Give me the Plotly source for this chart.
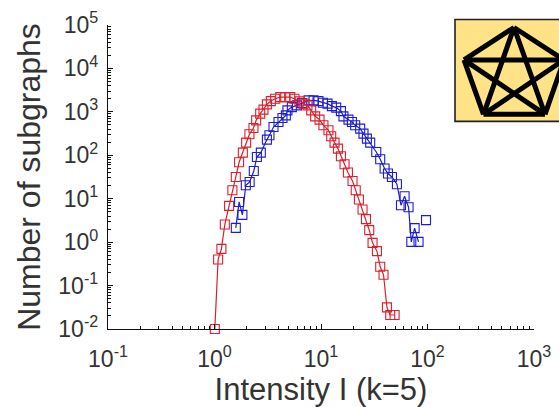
import plotly.graph_objects as go

# Values as decades (log10)
red_log_intensity = [0.003,0.034,0.065,0.097,0.137,0.168,0.200,0.231,0.266,0.297,0.328,0.366,0.391,0.429,0.460,0.492,0.529,0.570,0.617,0.664,0.711,0.751,0.798,0.836,0.873,0.908,0.945,0.986,1.023,1.070,1.096,1.127,1.159,1.187,1.221,1.253,1.296,1.326,1.356,1.390,1.422,1.453,1.484,1.525,1.556,1.587,1.619,1.650,1.691]
red_log_count = [-2.0,-0.398,-0.154,0.407,0.834,1.195,1.501,1.839,2.062,2.292,2.483,2.628,2.805,2.959,3.051,3.172,3.248,3.303,3.340,3.340,3.340,3.303,3.241,3.189,3.149,3.034,2.897,2.821,2.690,2.575,2.437,2.292,2.154,1.977,1.793,1.602,1.409,1.195,0.982,0.752,0.529,0.276,-0.016,-0.207,-0.568,-0.752,-1.501,-1.678,-1.678]
blue_log_intensity = [0.200,0.231,0.262,0.294,0.330,0.369,0.398,0.435,0.492,0.516,0.554,0.601,0.638,0.670,0.685,0.726,0.774,0.820,0.883,0.930,0.976,1.018,1.061,1.102,1.143,1.187,1.211,1.258,1.290,1.321,1.368,1.399,1.431,1.462,1.519,1.556,1.597,1.629,1.666,1.713,1.751,1.785,1.822,1.848,1.879,1.916,None,1.986]
blue_log_count = [0.329,0.926,0.628,1.310,1.386,1.639,1.961,2.062,2.361,2.460,2.651,2.766,2.857,2.920,3.034,3.110,3.149,3.202,3.264,3.264,3.248,3.211,3.189,3.133,3.097,3.018,2.897,2.821,2.766,2.690,2.614,2.499,2.384,2.292,2.076,1.908,1.694,1.579,1.501,1.333,0.851,1.057,0.805,0.007,0.322,0.007,None,0.506]
x_ticks = [0.1, 1, 10, 100, 1000]
x_tick_labels = ["10<sup>-1</sup>", "10<sup>0</sup>", "10<sup>1</sup>", "10<sup>2</sup>", "10<sup>3</sup>"]
y_ticks = [0.01, 0.1, 1, 10, 100, 1000, 10000, 100000]
y_tick_labels = ["10<sup>-2</sup>", "10<sup>-1</sup>", "10<sup>0</sup>", "10<sup>1</sup>", "10<sup>2</sup>", "10<sup>3</sup>", "10<sup>4</sup>", "10<sup>5</sup>"]

W, H = 559, 407
L, R, T, B = 108, 25, 24.5, 78
FONT = "Liberation Sans, Arial, sans-serif"
INK = "#333333"


def dec(v):
    return [None if a is None else 10 ** a for a in v]


def px(x):
    return (x - L) / (W - L - R)


def py(y):
    return 1 - (y - T) / (H - T - B)


fig = go.Figure()
for xs, ys, col in [
    (blue_log_intensity, blue_log_count, "#1c1cd2"),
    (red_log_intensity, red_log_count, "#dc1f2b"),
]:
    fig.add_trace(go.Scatter(
        x=dec(xs), y=dec(ys), mode="lines+markers", cliponaxis=False,
        line=dict(color=col, width=1.2),
        marker=dict(symbol="square-open", size=9, color=col, line=dict(width=1.1, color=col)),
        showlegend=False,
    ))

axis_common = dict(
    type="log", showgrid=False, zeroline=False, showline=True, automargin=False,
    linecolor="#111111", linewidth=1.4, ticks="inside", ticklen=5,
    tickcolor="#111111", tickwidth=1,
    tickfont=dict(family=FONT, size=23, color=INK),
    minor=dict(ticks="inside", ticklen=3, tickcolor="#111111", dtick="D1", showgrid=False),
)
fig.update_xaxes(
    range=[-1, 3], tickmode="array", tickvals=x_ticks, ticktext=x_tick_labels, ticklabelstandoff=9,
    title=dict(text="Intensity I (k=5)", font=dict(family=FONT, size=31, color=INK), standoff=4),
    **axis_common,
)
fig.update_yaxes(
    range=[-2, 5], tickmode="array", tickvals=y_ticks, ticktext=y_tick_labels, ticklabelstandoff=4,
    title=dict(text="Number of subgraphs", font=dict(family=FONT, size=32, color=INK), standoff=8),
    **axis_common,
)

# Inset: yellow card with the complete graph on five nodes
fig.add_shape(type="rect", xref="paper", yref="paper", x0=px(455), x1=px(572), y0=py(121), y1=py(19),
              fillcolor="#ffe386", line=dict(color="#222222", width=1.6))
nodes = [(514, 27), (464, 59.5), (483.5, 114), (545, 114), (564, 59.5)]
for i in range(5):
    for j in range(i + 1, 5):
        fig.add_shape(type="line", xref="paper", yref="paper",
                      x0=px(nodes[i][0]), y0=py(nodes[i][1]), x1=px(nodes[j][0]), y1=py(nodes[j][1]),
                      line=dict(color="#000000", width=5))

fig.update_layout(
    width=W, height=H, margin=dict(l=L, r=R, t=T, b=B),
    paper_bgcolor="white", plot_bgcolor="white",
)
fig.write_html(
    "out.html",
    config={"displayModeBar": False},
    post_script="document.body.style.margin='0';document.documentElement.style.overflow='hidden';",
)
